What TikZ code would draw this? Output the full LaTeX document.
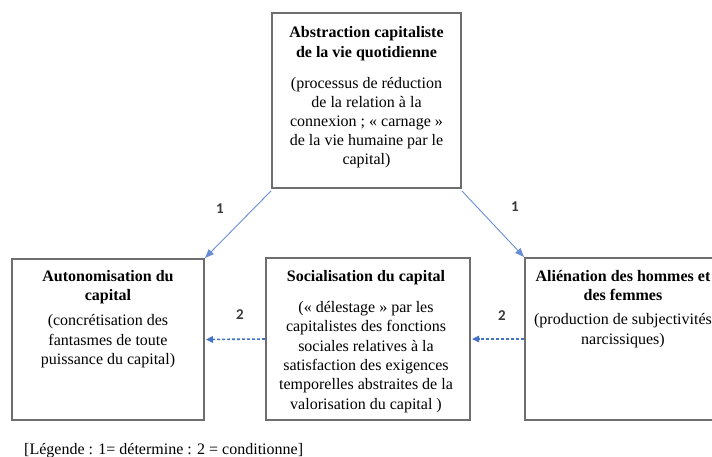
\documentclass[tikz,border=0pt]{standalone}
\usepackage{fontspec}
\setmainfont{Liberation Serif}
\newfontfamily\lblfont{Carlito}
\usetikzlibrary{arrows.meta}
\definecolor{boxgray}{HTML}{6E6E6E}
\definecolor{arrowblue}{HTML}{6A8ED6}
\definecolor{dashblue}{HTML}{4472C4}
\definecolor{numgray}{HTML}{3A3A3A}
\begin{document}
\begin{tikzpicture}[x=1pt,y=-1pt,
  box/.style={draw=boxgray, line width=1.3pt, inner sep=0pt, outer sep=0pt, anchor=north west},
  txt/.style={align=center, inner sep=0pt, anchor=north, font=\fontsize{16}{19.3}\selectfont},
  solidarrow/.style={-{Triangle[length=9pt,width=7pt]}, draw=arrowblue, line width=0.9pt},
  dasharrow/.style={-{Triangle[length=7pt,width=6.5pt]}, draw=dashblue, line width=1.6pt, dash pattern=on 3pt off 2pt, shorten >=2pt, shorten <=1pt},
  num/.style={font=\lblfont\bfseries\fontsize{15}{18}\selectfont, text=numgray, inner sep=0pt}]
\useasboundingbox (0,0) rectangle (712,457);
\fill[white] (0,0) rectangle (712,457);

% boxes
\node[box, minimum width=189pt, minimum height=175pt] (top) at (272,13) {};
\node[box, minimum width=192pt, minimum height=161pt] (left) at (12,259) {};
\node[box, minimum width=204pt, minimum height=162pt] (mid) at (266,258) {};
\node[box, minimum width=198pt, minimum height=162pt] (right) at (525,258) {};

% texts
\node[txt, font=\fontsize{16}{18.8}\selectfont] (toptxt) at (366.5,26) {\textbf{Abstraction capitaliste}\\[1pt]\textbf{de la vie quotidienne}\\[13pt]
  (processus de réduction\\de la relation à la\\connexion ; «~carnage~»\\de la vie humaine par le\\capital)};
\node[txt] (lefttxt) at (108,270) {\textbf{Autonomisation du}\\\textbf{capital}\\[6pt]
  (concrétisation des\\fantasmes de toute\\puissance du capital)};
\node[txt] (midtxt) at (366,270) {\textbf{Socialisation du capital}\\[12pt]
  («~délestage~» par les\\capitalistes des fonctions\\sociales relatives à la\\satisfaction des exigences\\temporelles abstraites de la\\valorisation du capital )};
\node[txt] (righttxt) at (623,270) {\textbf{Aliénation des hommes et}\\\textbf{des femmes}\\[5pt]
  (production de subjectivités\\narcissiques)};

% connectors
\draw[solidarrow] ([shift={(-1,3)}]top.south west) -- ([shift={(1,-1)}]left.north east);
\draw[solidarrow] ([shift={(1,3)}]top.south east) -- ([shift={(-1,-1)}]right.north west);
\draw[dasharrow] (mid.west) -- (left.east);
\draw[dasharrow] (right.west) -- (mid.east);

% labels
\node[num] (n1l) at (220,209) {1};
\node[num] (n1r) at (515,207) {1};
\node[num] (n2l) at (240,315) {2};
\node[num] (n2r) at (502,316) {2};

% legend
\node[anchor=west, inner sep=0pt, font=\fontsize{16}{19}\selectfont] (legend) at (24,451) {[Légende : 1= détermine : 2 = conditionne]};
\end{tikzpicture}
\end{document}
